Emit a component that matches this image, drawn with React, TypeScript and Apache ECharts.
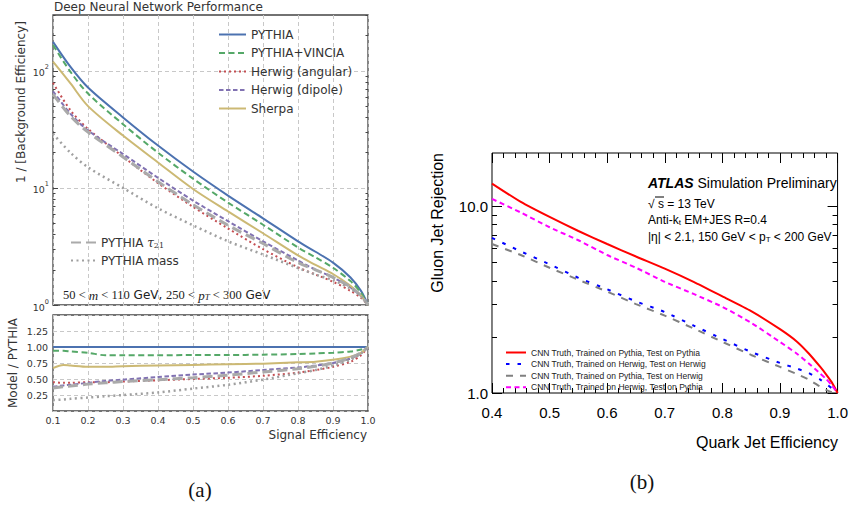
import React, { useEffect, useRef } from 'react';
import * as echarts from 'echarts';

// ---------- Panel (a): Deep Neural Network Performance ----------
const effA = [0.1, 0.15, 0.2, 0.3, 0.4, 0.5, 0.6, 0.7, 0.8, 0.85, 0.9, 0.95, 0.98, 1.0];
const pythia = [177, 108, 72, 40, 23, 13.8, 8.6, 5.5, 3.5, 2.85, 2.3, 1.72, 1.32, 1.0];
const vincia = [166, 98, 64, 35, 20, 12, 7.5, 4.85, 3.1, 2.55, 2.08, 1.6, 1.27, 1.0];
const herwigAng = [79, 46, 32, 18.5, 11, 6.9, 4.5, 3.0, 2.1, 1.82, 1.58, 1.32, 1.15, 1.0];
const herwigDip = [67, 43, 31, 19.5, 12.2, 7.8, 5.2, 3.5, 2.4, 2.0, 1.72, 1.41, 1.19, 1.0];
const sherpa = [120, 78, 50, 28, 16.5, 9.8, 6.3, 4.1, 2.65, 2.2, 1.84, 1.46, 1.2, 1.0];
const tau21 = [63, 41, 30, 18.4, 11.3, 7.2, 4.8, 3.35, 2.3, 2.0, 1.72, 1.43, 1.2, 1.0];
const massA = [29, 20, 15, 10, 6.7, 4.8, 3.5, 2.7, 2.07, 1.82, 1.63, 1.38, 1.19, 1.0];

const effR = [0.1, 0.13, 0.15, 0.2, 0.25, 0.3, 0.4, 0.5, 0.6, 0.7, 0.8, 0.85, 0.9, 0.95, 0.98, 1.0];
const rPythia = [1, 1, 1, 1, 1, 1, 1, 1, 1, 1, 1, 1, 1, 1, 1, 1];
const rVincia = [0.94, 0.94, 0.93, 0.91, 0.87, 0.87, 0.87, 0.875, 0.875, 0.88, 0.89, 0.9, 0.91, 0.93, 0.96, 1.0];
const rSherpa = [0.67, 0.72, 0.71, 0.69, 0.69, 0.7, 0.71, 0.72, 0.73, 0.74, 0.76, 0.77, 0.8, 0.85, 0.91, 1.0];
const rAng = [0.45, 0.44, 0.44, 0.45, 0.45, 0.46, 0.48, 0.5, 0.52, 0.55, 0.6, 0.64, 0.69, 0.77, 0.87, 1.0];
const rDip = [0.38, 0.4, 0.41, 0.44, 0.47, 0.49, 0.53, 0.57, 0.6, 0.64, 0.68, 0.71, 0.75, 0.82, 0.9, 1.0];
const rTau = [0.36, 0.38, 0.39, 0.42, 0.44, 0.46, 0.49, 0.52, 0.56, 0.61, 0.66, 0.7, 0.75, 0.83, 0.91, 1.0];
const rMass = [0.17, 0.18, 0.19, 0.21, 0.23, 0.25, 0.29, 0.35, 0.41, 0.49, 0.59, 0.64, 0.71, 0.8, 0.9, 1.0];

const minorTicksA = [2, 3, 4, 5, 6, 7, 8, 9, 20, 30, 40, 50, 60, 70, 80, 90, 200, 300];

// ---------- Panel (b): ATLAS quark/gluon ----------
const effB = [0.4, 0.45, 0.5, 0.55, 0.6, 0.65, 0.7, 0.75, 0.8, 0.85, 0.9, 0.93, 0.95, 0.97, 0.98, 0.99, 1.0];
const redB = [13.3, 10.6, 8.8, 7.4, 6.3, 5.4, 4.65, 3.95, 3.3, 2.75, 2.2, 1.88, 1.63, 1.38, 1.26, 1.14, 1.0];
const blueB = [6.8, 5.75, 4.9, 4.15, 3.6, 3.1, 2.72, 2.3, 1.95, 1.66, 1.45, 1.35, 1.28, 1.18, 1.12, 1.06, 1.0];
const greyB = [6.3, 5.5, 4.7, 4.05, 3.5, 3.0, 2.6, 2.22, 1.88, 1.6, 1.38, 1.26, 1.18, 1.08, 1.04, 1.01, 1.0];
const magB = [11.0, 9.3, 7.75, 6.6, 5.5, 4.7, 3.95, 3.4, 2.9, 2.38, 1.88, 1.62, 1.44, 1.27, 1.19, 1.1, 1.0];
const minorTicksB = [2, 3, 4, 5, 6, 7, 8, 9];
const majorTicksB = [1, 10];

const pairs = (xs: number[], ys: number[]) => xs.map((x, i) => [x, ys[i]]);

const FA = 'DejaVu Sans';
const FB = 'Liberation Sans';

export default function App() {
  const ref = useRef<HTMLDivElement>(null);
  useEffect(() => {
    if (!ref.current) return;
    const chart = echarts.init(ref.current, null, { renderer: 'svg' });

    const lineA = (name: string, data: any, color: string, type: any, width: number, xi: number) => ({
      name,
      type: 'line',
      xAxisIndex: xi,
      yAxisIndex: xi === 0 ? 0 : 2,
      data,
      symbol: 'none',
      smooth: 0.3,
      lineStyle: { color, type, width },
      itemStyle: { color },
      z: 3,
    });

    const cBlue = '#4C72B0', cGreen = '#55A868', cRed = '#C44E52', cPurple = '#8172B2', cSherpa = '#CCB974';
    const cTau = '#AAAAAA', cMass = '#A0A0A0';

    const lineB = (name: string, data: any, color: string, type: any, width: number) => ({
      name,
      type: 'line',
      xAxisIndex: 2,
      yAxisIndex: 4,
      data,
      symbol: 'none',
      smooth: 0.2,
      lineStyle: { color, type, width },
      itemStyle: { color },
      z: 3,
    });

    const gridSplit = { show: true, lineStyle: { color: '#c8c8c8', type: [4, 3], width: 1 } };
    const noSymbol = { opacity: 0, borderWidth: 0 };

    const option: any = {
      animation: false,
      grid: [
        { left: 53, top: 15, width: 315, height: 290, show: true, borderColor: '#444', borderWidth: 1.3, backgroundColor: 'transparent' },
        { left: 53, top: 315, width: 315, height: 96, show: true, borderColor: '#444', borderWidth: 1.3, backgroundColor: 'transparent' },
        { left: 492, top: 153, width: 348, height: 240, show: true, borderColor: '#000', borderWidth: 1, backgroundColor: 'transparent' },
      ],
      xAxis: [
        { gridIndex: 0, type: 'value', min: 0.1, max: 1.0, interval: 0.1, axisLine: { show: false }, axisTick: { show: false }, axisLabel: { show: false }, splitLine: gridSplit },
        { gridIndex: 1, type: 'value', min: 0.1, max: 1.0, interval: 0.1, axisLine: { show: false }, axisTick: { show: false },
          axisLabel: { show: true, fontSize: 9.5, fontFamily: FA, color: '#333', margin: 4, formatter: (v: number) => v.toFixed(1) }, splitLine: gridSplit },
        { gridIndex: 2, type: 'value', min: 0.4, max: 1.0, interval: 0.1, position: 'bottom',
          axisLine: { show: false },
          axisTick: { show: true, inside: true, length: 10, lineStyle: { color: '#000', width: 1 } },
          minorTick: { show: true, splitNumber: 5, length: 5, lineStyle: { color: '#000', width: 1 } },
          axisLabel: { show: true, fontSize: 15, fontFamily: FB, color: '#000', margin: 12, formatter: (v: number) => v.toFixed(1) },
          splitLine: { show: false } },
        { gridIndex: 2, type: 'value', min: 0.4, max: 1.0, interval: 0.1, position: 'top',
          axisLine: { show: false },
          axisTick: { show: true, inside: true, length: 10, lineStyle: { color: '#000', width: 1 } },
          minorTick: { show: true, splitNumber: 5, length: 5, lineStyle: { color: '#000', width: 1 } },
          axisLabel: { show: false }, splitLine: { show: false } },
      ],
      yAxis: [
        { gridIndex: 0, type: 'log', min: 1, max: 300, position: 'left', axisLine: { show: false },
          axisTick: { show: true, inside: true, length: 5, customValues: [1, 10, 100], lineStyle: { color: '#444' } },
          axisLabel: { show: true, margin: 4, customValues: [1, 10, 100], color: '#333',
            formatter: (v: number) => '{b|10}{s|' + Math.round(Math.log10(v)) + '}',
            rich: { b: { fontSize: 9.5, fontFamily: FA, color: '#333', lineHeight: 14, verticalAlign: 'bottom' },
                    s: { fontSize: 6.5, fontFamily: FA, color: '#333', lineHeight: 7, verticalAlign: 'top' } } },
          splitLine: { ...gridSplit } },
        { gridIndex: 0, type: 'log', min: 1, max: 300, position: 'left', axisLine: { show: false },
          axisTick: { show: true, inside: true, length: 2.5, customValues: minorTicksA, lineStyle: { color: '#444' } },
          axisLabel: { show: false }, splitLine: { show: false } },
        { gridIndex: 1, type: 'value', min: 0, max: 1.5, interval: 0.25, axisLine: { show: false }, axisTick: { show: false },
          axisLabel: { show: true, fontSize: 9.5, fontFamily: FA, color: '#333', margin: 5,
            formatter: (v: number) => (v <= 0 || v >= 1.5 ? '' : v.toFixed(2)) },
          splitLine: gridSplit },
        { gridIndex: 0, type: 'log', min: 1, max: 300, position: 'right', axisLine: { show: false },
          axisTick: { show: true, inside: true, length: 2.5, customValues: minorTicksA, lineStyle: { color: '#444' } },
          axisLabel: { show: false }, splitLine: { show: false } },
        { gridIndex: 2, type: 'log', min: 1, max: 19.4, position: 'left', axisLine: { show: false },
          axisTick: { show: true, inside: true, length: 10, customValues: majorTicksB, lineStyle: { color: '#000' } },
          axisLabel: { show: true, customValues: majorTicksB, fontSize: 15, fontFamily: FB, color: '#000', margin: 4, formatter: (v: number) => v.toFixed(1) },
          splitLine: { show: false } },
        { gridIndex: 2, type: 'log', min: 1, max: 19.4, position: 'left', axisLine: { show: false },
          axisTick: { show: true, inside: true, length: 5, customValues: minorTicksB, lineStyle: { color: '#000' } },
          axisLabel: { show: false }, splitLine: { show: false } },
        { gridIndex: 2, type: 'log', min: 1, max: 19.4, position: 'right', axisLine: { show: false },
          axisTick: { show: true, inside: true, length: 10, customValues: majorTicksB, lineStyle: { color: '#000' } },
          axisLabel: { show: false }, splitLine: { show: false } },
        { gridIndex: 2, type: 'log', min: 1, max: 19.4, position: 'right', axisLine: { show: false },
          axisTick: { show: true, inside: true, length: 5, customValues: minorTicksB, lineStyle: { color: '#000' } },
          axisLabel: { show: false }, splitLine: { show: false } },
      ],
      legend: [
        { data: ['PYTHIA', 'PYTHIA+VINCIA', 'Herwig (angular)', 'Herwig (dipole)', 'Sherpa'],
          orient: 'vertical', left: 213, top: 23, itemWidth: 27, itemHeight: 12, itemGap: 5.5,
          itemStyle: noSymbol,
          textStyle: { fontSize: 12, fontFamily: FA, color: '#333', lineHeight: 13 }, selectedMode: false },
        { data: ['PYTHIA τ21', 'PYTHIA mass'],
          orient: 'vertical', left: 65, top: 231, itemWidth: 25, itemHeight: 12, itemGap: 5,
          itemStyle: noSymbol,
          formatter: (n: string) => (n === 'PYTHIA τ21' ? 'PYTHIA {i|τ}{sub|21}' : n),
          textStyle: { fontSize: 12, fontFamily: FA, color: '#333', lineHeight: 13,
            rich: { i: { fontSize: 12, fontFamily: 'DejaVu Serif', fontStyle: 'italic', color: '#333' },
                    sub: { fontSize: 8, fontFamily: 'DejaVu Serif', color: '#333', verticalAlign: 'bottom', lineHeight: 10 } } },
          selectedMode: false },
        { data: ['CNN Truth, Trained on Pythia, Test on Pythia', 'CNN Truth, Trained on Herwig, Test on Herwig',
                 'CNN Truth, Trained on Pythia, Test on Herwig', 'CNN Truth, Trained on Herwig, Test on Pythia'],
          orient: 'vertical', left: 500, top: 343, itemWidth: 20, itemHeight: 10, itemGap: 2.6,
          itemStyle: noSymbol,
          textStyle: { fontSize: 8.5, fontFamily: FB, color: '#222' }, selectedMode: false },
      ],
      series: [
        lineA('PYTHIA', pairs(effA, pythia), cBlue, 'solid', 2, 0),
        lineA('PYTHIA+VINCIA', pairs(effA, vincia), cGreen, [6, 3.5], 2, 0),
        lineA('Herwig (angular)', pairs(effA, herwigAng), cRed, [2, 3], 2, 0),
        lineA('Herwig (dipole)', pairs(effA, herwigDip), cPurple, [4.5, 2.5], 2, 0),
        lineA('Sherpa', pairs(effA, sherpa), cSherpa, 'solid', 2, 0),
        lineA('PYTHIA τ21', pairs(effA, tau21), cTau, [10, 5], 3, 0),
        lineA('PYTHIA mass', pairs(effA, massA), cMass, [2, 3.5], 2.5, 0),
        lineA('PYTHIA', pairs(effR, rPythia), cBlue, 'solid', 2, 1),
        lineA('PYTHIA+VINCIA', pairs(effR, rVincia), cGreen, [6, 3.5], 2, 1),
        lineA('Herwig (angular)', pairs(effR, rAng), cRed, [2, 3], 2, 1),
        lineA('Herwig (dipole)', pairs(effR, rDip), cPurple, [4.5, 2.5], 2, 1),
        lineA('Sherpa', pairs(effR, rSherpa), cSherpa, 'solid', 2, 1),
        lineA('PYTHIA τ21', pairs(effR, rTau), cTau, [10, 5], 3, 1),
        lineA('PYTHIA mass', pairs(effR, rMass), cMass, [2, 3.5], 2.5, 1),
        lineB('CNN Truth, Trained on Pythia, Test on Pythia', pairs(effB, redB), '#FF0000', 'solid', 2),
        lineB('CNN Truth, Trained on Herwig, Test on Herwig', pairs(effB, blueB), '#0000FF', [3.5, 8], 2),
        lineB('CNN Truth, Trained on Pythia, Test on Herwig', pairs(effB, greyB), '#808080', [7, 7], 2),
        lineB('CNN Truth, Trained on Herwig, Test on Pythia', pairs(effB, magB), '#FF00FF', [5, 3.5], 2),
      ],
      graphic: [
        { type: 'text', x: 54, y: 7, style: { text: 'Deep Neural Network Performance', fontSize: 12, fontFamily: FA, fill: '#333', align: 'left', verticalAlign: 'middle' } },
        { type: 'text', x: 21, y: 102, rotation: Math.PI / 2, style: { text: '1 / [Background Efficiency]', fontSize: 12, fontFamily: FA, fill: '#333', align: 'center', verticalAlign: 'middle' } },
        { type: 'text', x: 13, y: 363, rotation: Math.PI / 2, style: { text: 'Model / PYTHIA', fontSize: 12, fontFamily: FA, fill: '#333', align: 'center', verticalAlign: 'middle' } },
        { type: 'text', x: 367, y: 435, style: { text: 'Signal Efficiency', fontSize: 12, fontFamily: FA, fill: '#333', align: 'right', verticalAlign: 'middle' } },
        { type: 'text', x: 63, y: 295, style: {
          text: '{m|50 < }{i|m}{m| < 110} GeV, {m|250 < }{i|p}{sub|T}{m| < 300} GeV',
          fontSize: 12, fontFamily: FA, fill: '#222', align: 'left', verticalAlign: 'middle',
          rich: { m: { fontSize: 12.5, fontFamily: 'Liberation Serif', fill: '#222' },
                  i: { fontSize: 13, fontFamily: 'Liberation Serif', fontStyle: 'italic', fill: '#222' },
                  sub: { fontSize: 9, fontFamily: 'Liberation Serif', fontStyle: 'italic', fill: '#222', verticalAlign: 'bottom', lineHeight: 11 } } } },
        { type: 'text', x: 200, y: 490, style: { text: '(a)', fontSize: 21, fontFamily: 'Liberation Serif', fill: '#111', align: 'center', verticalAlign: 'middle' } },
        { type: 'text', x: 642, y: 482, style: { text: '(b)', fontSize: 21, fontFamily: 'Liberation Serif', fill: '#111', align: 'center', verticalAlign: 'middle' } },
        { type: 'text', x: 437, y: 153, rotation: Math.PI / 2, style: { text: 'Gluon Jet Rejection', fontSize: 16, fontFamily: FB, fill: '#000', align: 'right', verticalAlign: 'middle' } },
        { type: 'text', x: 838, y: 442, style: { text: 'Quark Jet Efficiency', fontSize: 16, fontFamily: FB, fill: '#000', align: 'right', verticalAlign: 'middle' } },
        { type: 'text', x: 648, y: 183, style: { text: '{b|ATLAS} Simulation Preliminary', fontSize: 14, fontFamily: FB, fill: '#000', align: 'left', verticalAlign: 'middle',
          rich: { b: { fontSize: 14, fontFamily: FB, fontWeight: 'bold', fontStyle: 'italic', fill: '#000' } } } },
        { type: 'text', x: 648, y: 204, style: { text: '√ s = 13 TeV', fontSize: 12, fontFamily: FB, fill: '#000', align: 'left', verticalAlign: 'middle' } },
        { type: 'line', shape: { x1: 655, y1: 197, x2: 664, y2: 197 }, style: { stroke: '#000', lineWidth: 1 } },
        { type: 'text', x: 648, y: 220, style: { text: 'Anti-k{sub|t} EM+JES R=0.4', fontSize: 12, fontFamily: FB, fill: '#000', align: 'left', verticalAlign: 'middle',
          rich: { sub: { fontSize: 8, fontFamily: FB, fill: '#000', verticalAlign: 'bottom', lineHeight: 10 } } } },
        { type: 'text', x: 648, y: 237, style: { text: '|η| < 2.1, 150 GeV < p{sub|T} < 200 GeV', fontSize: 12, fontFamily: FB, fill: '#000', align: 'left', verticalAlign: 'middle',
          rich: { sub: { fontSize: 8, fontFamily: FB, fill: '#000', verticalAlign: 'bottom', lineHeight: 10 } } } },
      ],
    };
    chart.setOption(option);
    return () => chart.dispose();
  }, []);
  return <div ref={ref} style={{ position: 'fixed', left: 0, top: 0, width: 851, height: 509, background: '#fff' }} />;
}
